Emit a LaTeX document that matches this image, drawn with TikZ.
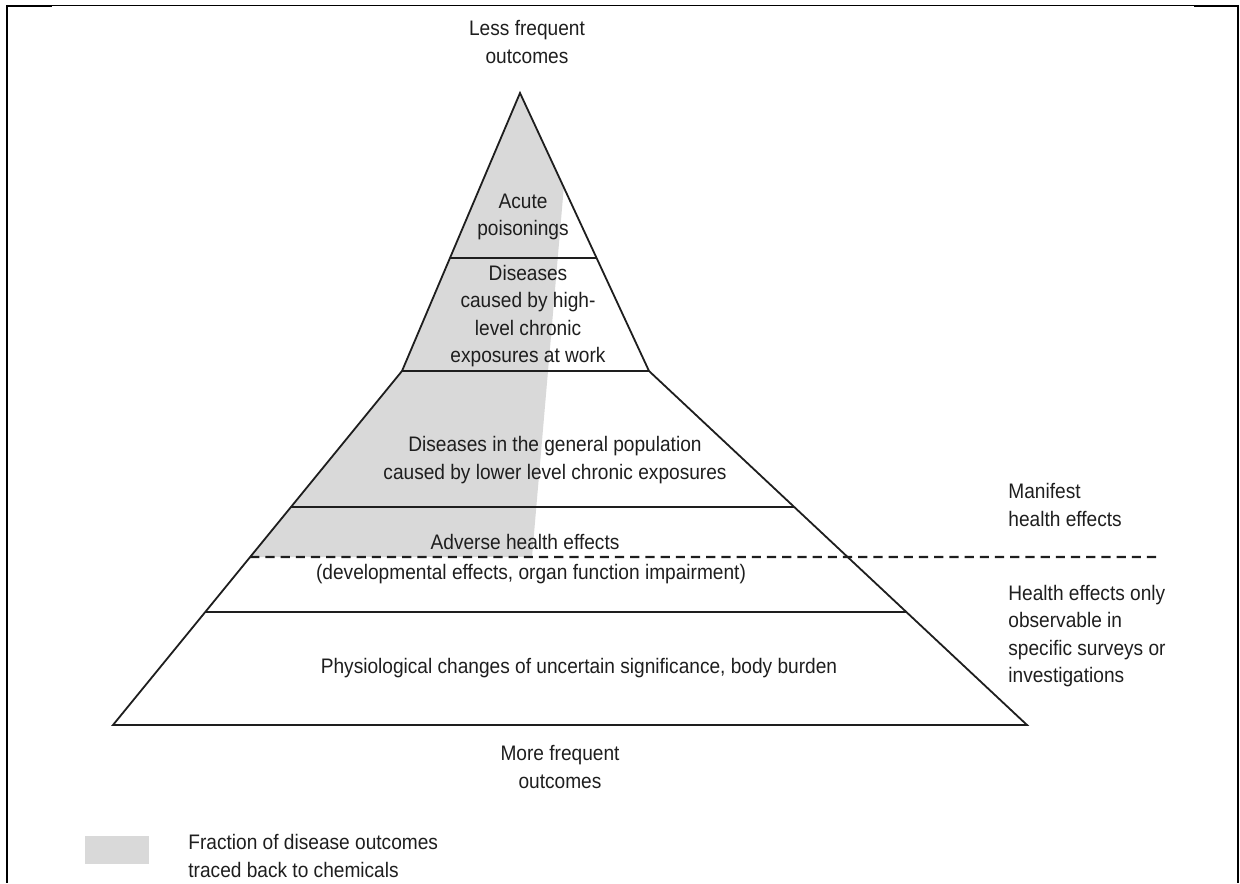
\documentclass[tikz,border=0pt]{standalone}
\usepackage{fontspec}
\setmainfont{Liberation Sans}[FakeStretch=0.91]
\usetikzlibrary{calc}
\definecolor{chemgrey}{HTML}{D9D9D9}
\definecolor{inkgrey}{HTML}{1E1E1E}
\begin{document}
\begin{tikzpicture}[x=0.5pt,y=-0.5pt,
  lbl/.style={inner sep=0pt, align=center, text=inkgrey, font=\fontsize{10.5}{13.8}\selectfont},
  lbll/.style={lbl, align=left, anchor=west},
  edge/.style={line width=0.9pt, draw=inkgrey, line join=miter},
  tier/.style={line width=1.3pt, draw=inkgrey},
  splitline/.style={line width=1.2pt, draw=inkgrey, dash pattern=on 4.6pt off 3pt},
  frame/.style={draw=black}]
\useasboundingbox (0,0) rectangle (1240,883);

% pyramid corners
\coordinate (apex) at (520,93);
\coordinate (kl) at (402,371);
\coordinate (kr) at (649,371);
\coordinate (bl) at (113,725);
\coordinate (br) at (1027,725);
\coordinate (gtop) at (563.8,187.5);
\coordinate (gbot) at (532,557);
\coordinate (dashend) at (1158,557);

% share of outcomes traced back to chemicals
\fill[chemgrey] (apex) -- (gtop) -- (gbot) -- ($(kl)!0.5254!(bl)$) -- (kl) -- cycle;

% tier boundaries
\draw[tier] ($(apex)!0.5935!(kl)$) -- ($(apex)!0.5935!(kr)$);
\draw[tier] (kl) -- (kr);
\draw[tier] ($(kl)!0.384!(bl)$) -- ($(kr)!0.384!(br)$);
\draw[tier] ($(kl)!0.681!(bl)$) -- ($(kr)!0.681!(br)$);
\draw[splitline] ($(kl)!0.5254!(bl)$) -- (dashend);

% outline
\draw[edge] (apex) -- (kr) -- (br) -- (bl) -- (kl) -- cycle;
\draw[tier] (bl) -- (br);

% tier labels
\node[lbl] (less) at (527,42) {Less frequent\\outcomes};
\node[lbl] (acute) at (523,217) {Acute\\poisonings};
\node[lbl] (highlevel) at (528,316) {Diseases\\caused by high-\\level chronic\\exposures at work};
\node[lbl] (general) at (555,460) {Diseases in the general population\\caused by lower level chronic exposures};
\node[lbl] (adverse) at (525,542) {Adverse health effects};
\node[lbl] (develop) at (531,574) {(developmental effects, organ function impairment)};
\node[lbl] (physio) at (579,668) {Physiological changes of uncertain significance, body burden};
\node[lbl] (more) at (560,767) {More frequent\\outcomes};

% side notes
\node[lbll] (manifest) at (1008,505) {Manifest\\health effects};
\node[lbll] (observable) at (1008,636) {Health effects only\\observable in\\specific surveys or\\investigations};

% legend
\fill[chemgrey] (85,836) rectangle (149,864);
\node[lbll] (legendtext) at (188,856) {Fraction of disease outcomes\\traced back to chemicals};

% page frame
\draw[frame, line width=0.5pt] (7,5.3) -- (1238,5.3);
\draw[frame, line width=1.3pt] (6.5,6.2) -- (52,6.2);
\draw[frame, line width=1.3pt] (1194,6.2) -- (1238.5,6.2);
\draw[frame, line width=1pt] (7,5) -- (7,883);
\draw[frame, line width=0.9pt] (1238,5) -- (1238,883);
\end{tikzpicture}
\end{document}
